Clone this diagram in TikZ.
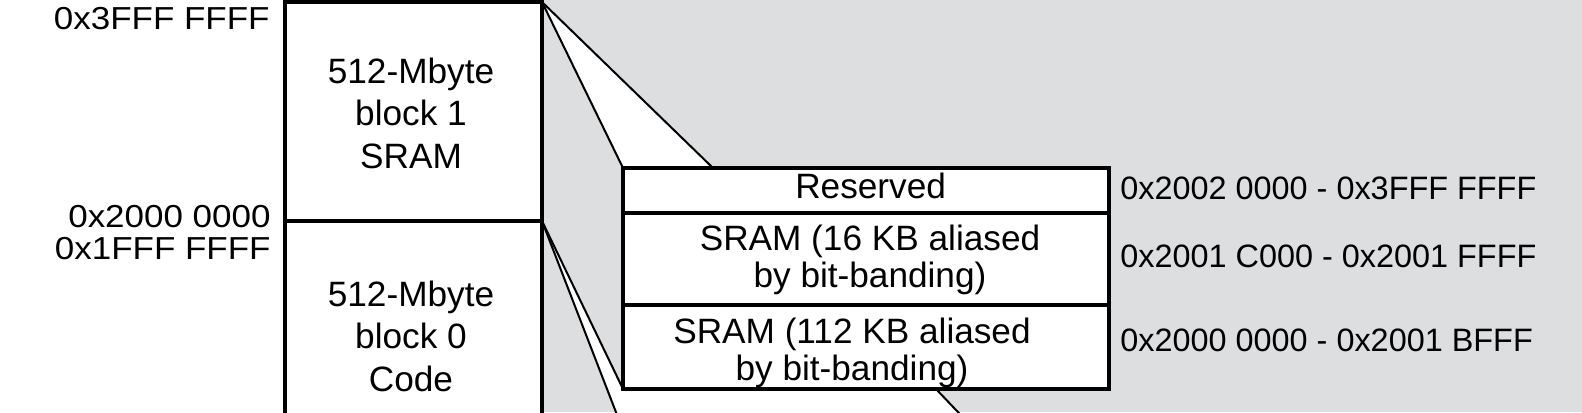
\documentclass[tikz,border=0pt]{standalone}
\usepackage{fontspec}
\setmainfont{Liberation Sans}
\usepackage{graphicx}
\definecolor{bggray}{RGB}{221,222,224}
\pgfdeclarelayer{background}
\pgfsetlayers{background,main}
\tikzset{
 memblock/.style={draw, line width=2pt, fill=white, minimum width=128.5pt, outer sep=0pt, inner sep=0pt},
 detailrow/.style={draw, line width=1.75pt, fill=white, minimum width=243pt, outer sep=0pt, inner sep=0pt},
 blocktext/.style={font=\fontsize{17.6}{21.25}\selectfont, align=center, anchor=base, inner sep=0pt},
 rowtext/.style={font=\fontsize{17.6}{18.5}\selectfont, align=center, anchor=base, inner sep=0pt},
 addrleft/.style={font=\fontsize{15.9}{19}\selectfont, anchor=base east, inner sep=0pt},
 addrright/.style={font=\fontsize{16.2}{19}\selectfont, anchor=base west, inner sep=0pt},
 beam/.style={line width=1pt},
}
\begin{document}
\begin{tikzpicture}[x=0.5pt,y=-0.5pt]
\useasboundingbox (0,0) rectangle (1582,412);
\clip (0,0) rectangle (1582,412);
% memory blocks
\node[memblock, minimum height=109.5pt] (b1) at (413.5,111.5) {};
\node[memblock, minimum height=114.5pt] (b0) at (413.5,335.5) {};
% detail rows
\node[detailrow, minimum height=22.5pt] (rres) at (866,190.5) {};
\node[detailrow, minimum height=46pt] (rsram16) at (866,259) {};
\node[detailrow, minimum height=42pt] (rsram112) at (866,347) {};
% beam coordinates
\coordinate (uw) at ([xshift=45pt]rres.north west);
\coordinate (lw) at ([xshift=156.5pt]rsram112.south west);
\coordinate (lwend) at (965.5,420);
\coordinate (lbeam) at (619,420);
\begin{pgfonlayer}{background}
\fill[bggray] (542,0) rectangle (1582,412);
\fill[white] (b1.north east) -- (rres.north west) -- (uw) -- cycle;
\fill[white] (b1.south east) -- (rsram112.south west) -- (lw) -- (lwend) -- (lbeam) -- cycle;
\end{pgfonlayer}
\draw[beam] (b1.north east) -- (rres.north west);
\draw[beam] (b1.north east) -- (uw);
\draw[beam] (b1.south east) -- (rsram112.south west);
\draw[beam] (b1.south east) -- (lbeam);
\draw[beam] (lw) -- (lwend);
% texts (anchor base = baseline of the last line)
\node[blocktext] (t1) at (411,168.3) {512-Mbyte\\block 1\\SRAM};
\node[blocktext] (t0) at (411,391.3) {512-Mbyte\\block 0\\Code};
\node[rowtext] (tres) at (870.6,198) {Reserved};
\node[rowtext] (t16) at (870,287) {SRAM (16 KB aliased\\by bit-banding)};
\node[rowtext] (t112) at (852,380) {SRAM (112 KB aliased\\by bit-banding)};
\node[addrleft] (a3f) at (270,29.3) {\scalebox{1.1}[1]{0x3FFF FFFF}};
\node[addrleft] (a20) at (271,227.7) {\scalebox{1.1}[1]{0x2000 0000}};
\node[addrleft] (a1f) at (271,259.3) {\scalebox{1.1}[1]{0x1FFF FFFF}};
\node[addrright] (ares) at (1120,199.3) {0x2002 0000 - 0x3FFF FFFF};
\node[addrright] (a16) at (1120,267.7) {0x2001 C000 - 0x2001 FFFF};
\node[addrright] (a112) at (1120,351.7) {0x2000 0000 - 0x2001 BFFF};
\end{tikzpicture}
\end{document}
